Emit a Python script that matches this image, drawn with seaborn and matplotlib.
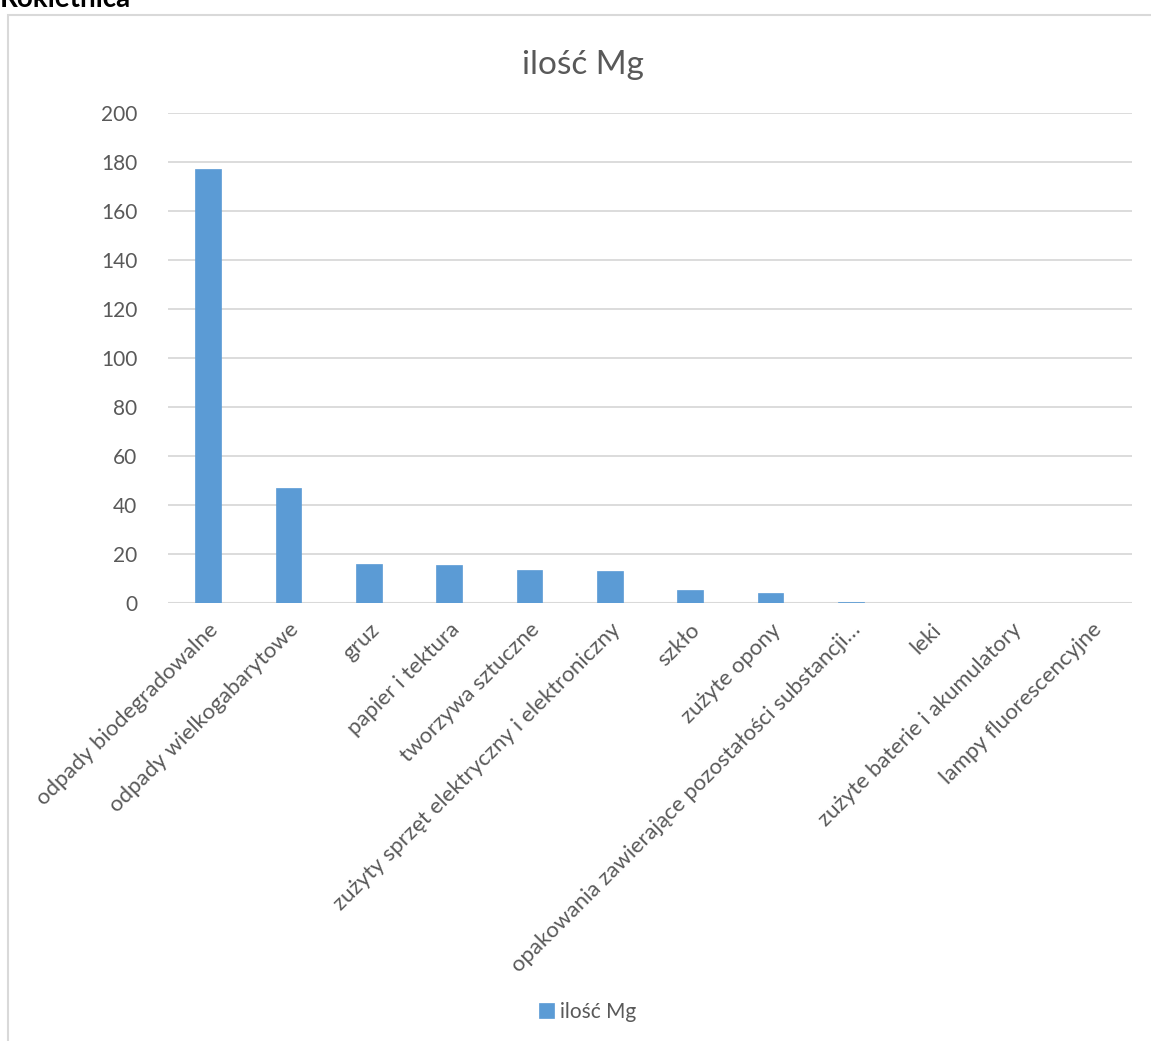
import matplotlib
matplotlib.use("Agg")
import matplotlib.pyplot as plt
import seaborn as sns
import pandas as pd
from matplotlib.patches import Rectangle

categories = [
    "odpady biodegradowalne",
    "odpady wielkogabarytowe",
    "gruz",
    "papier i tektura",
    "tworzywa sztuczne",
    "zużyty sprzęt elektryczny i elektroniczny",
    "szkło",
    "zużyte opony",
    "opakowania zawierające pozostałości substancji…",
    "leki",
    "zużyte baterie i akumulatory",
    "lampy fluorescencyjne",
]
values = [177, 47, 16, 15.5, 13.5, 13, 5.5, 4.1, 0.6, 0.05, 0, 0]
series_name = "ilość Mg"
y_ticks = [0, 20, 40, 60, 80, 100, 120, 140, 160, 180, 200]

df = pd.DataFrame({"kategoria": categories, "wartosc": values})

sns.set_theme(style="white")
plt.rcParams["font.family"] = ["Lato", "DejaVu Sans"]
txt = "#595959"
bar_c = "#5B9BD5"
grid_c = "#D9D9D9"

W, H = 1151, 1041
fig = plt.figure(figsize=(W / 100, H / 100), dpi=100, facecolor="white")

# ramka wykresu
fig.patches.append(Rectangle((8 / W, -0.05), 1.2, 1 - 15 / H + 0.05,
                             transform=fig.transFigure, fill=False,
                             ec=grid_c, lw=1.5))

# nagłówek nad wykresem (ucięty u góry jak w oryginale)
fig.text(0 / W, 1 - 7 / H, "Rokietnica", fontsize=20, fontweight="bold",
         color="black", va="baseline", ha="left")

ax = fig.add_axes([168 / W, 1 - 603 / H, (1132 - 168) / W, (603 - 113) / H])
sns.barplot(data=df, x="kategoria", y="wartosc", color=bar_c, width=0.32,
            label=series_name, ax=ax, saturation=1, edgecolor=bar_c,
            linewidth=0.5)

ax.set_ylim(0, 200)
ax.set_yticks(y_ticks)
ax.yaxis.grid(True, color=grid_c, lw=1.3)
ax.set_axisbelow(True)
for s in ax.spines.values():
    s.set_visible(False)
ax.axhline(0, color=grid_c, lw=1.5, zorder=0)
ax.set_xlabel("")
ax.set_ylabel("")
ax.tick_params(axis="y", length=0, pad=22, labelsize=15, labelcolor=txt)
ax.tick_params(axis="x", length=0, pad=12, labelsize=16, labelcolor=txt)
plt.setp(ax.get_xticklabels(), rotation=45, ha="right", va="top",
         rotation_mode="anchor")

fig.text(583 / W, 1 - 65 / H, series_name, fontsize=24, color=txt,
         ha="center", va="center")

leg = ax.legend(loc="center", bbox_to_anchor=(588 / W, 1 - 1012 / H),
                bbox_transform=fig.transFigure, frameon=False, fontsize=15,
                handlelength=0.7, handleheight=0.7, handletextpad=0.3)
for t in leg.get_texts():
    t.set_color(txt)

fig.savefig("out.png", dpi=100, facecolor="white")
